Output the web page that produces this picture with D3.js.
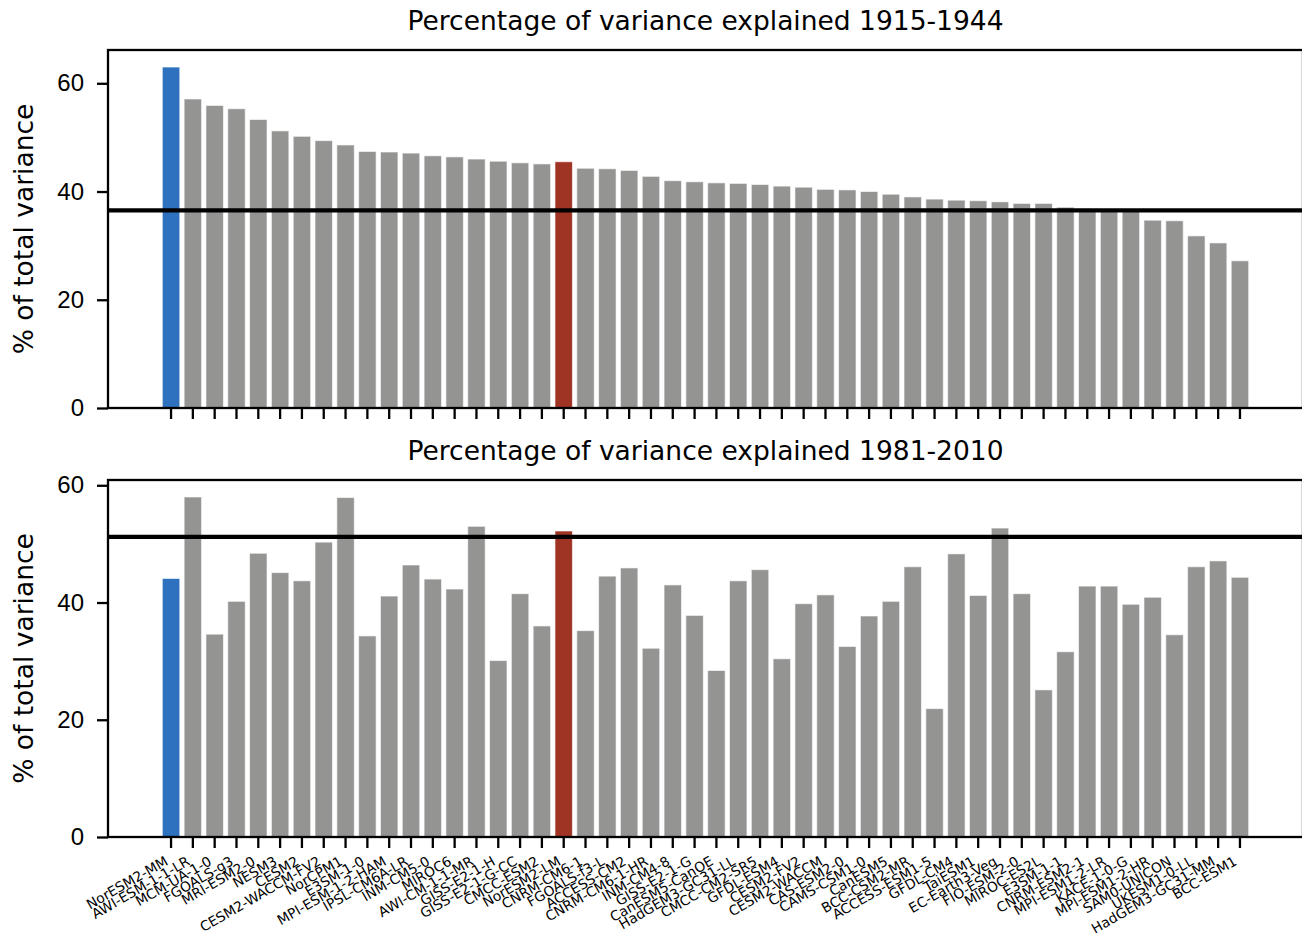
<!DOCTYPE html>
<html>
<head>
<meta charset="utf-8">
<script src="https://cdn.jsdelivr.net/npm/d3@7"></script>
<style>
  body { margin: 0; background: #ffffff; }
  svg { font-family: "DejaVu Sans", sans-serif; }
</style>
</head>
<body>
<svg id="chart" width="1302" height="940"></svg>
<script>
// model order is the same in both panels (sorted by the 1915-1944 value)
const models = [
  "NorESM2-MM", "AWI-ESM-1-1-LR", "MCM-UA-1-0", "FGOALS-g3", "MRI-ESM2-0",
  "NESM3", "CESM2", "CESM2-WACCM-FV2", "NorCPM1", "E3SM-1-0",
  "MPI-ESM-1-2-HAM", "IPSL-CM6A-LR", "INM-CM5-0", "MIROC6", "AWI-CM-1-1-MR",
  "GISS-E2-1-H", "GISS-E2-1-G-CC", "CMCC-ESM2", "NorESM2-LM", "CNRM-CM6-1",
  "FGOALS-f3-L", "ACCESS-CM2", "CNRM-CM6-1-HR", "INM-CM4-8", "GISS-E2-1-G",
  "CanESM5-CanOE", "HadGEM3-GC31-LL", "CMCC-CM2-SR5", "GFDL-ESM4", "CESM2-FV2",
  "CESM2-WACCM", "CAS-ESM2-0", "CAMS-CSM1-0", "CanESM5", "BCC-CSM2-MR",
  "ACCESS-ESM1-5", "GFDL-CM4", "TaiESM1", "EC-Earth3-Veg", "FIO-ESM-2-0",
  "MIROC-ES2L", "E3SM-1-1", "CNRM-ESM2-1", "MPI-ESM1-2-LR", "KACE-1-0-G",
  "MPI-ESM1-2-HR", "SAM0-UNICON", "UKESM1-0-LL", "HadGEM3-GC31-MM", "BCC-ESM1"
];

const variance1915 = [
  63.0, 57.1, 55.9, 55.3, 53.3, 51.2, 50.2, 49.4, 48.6, 47.4,
  47.3, 47.1, 46.6, 46.4, 46.0, 45.6, 45.3, 45.1, 45.5, 44.3,
  44.2, 43.9, 42.8, 42.0, 41.8, 41.6, 41.5, 41.3, 41.0, 40.8,
  40.4, 40.3, 40.0, 39.5, 39.0, 38.6, 38.4, 38.3, 38.1, 37.8,
  37.8, 37.1, 36.8, 36.6, 36.5, 34.7, 34.6, 31.8, 30.5, 27.2
];

const variance1981 = [
  44.1, 58.0, 34.6, 40.2, 48.4, 45.1, 43.7, 50.3, 57.9, 34.3,
  41.1, 46.4, 44.0, 42.3, 53.0, 30.1, 41.5, 36.0, 52.2, 35.2,
  44.5, 45.9, 32.2, 43.0, 37.8, 28.4, 43.7, 45.6, 30.4, 39.8,
  41.3, 32.5, 37.7, 40.2, 46.1, 21.9, 48.3, 41.2, 52.7, 41.5,
  25.1, 31.6, 42.8, 42.8, 39.7, 40.9, 34.5, 46.1, 47.1, 44.3
];

// reference (observed) level drawn as the black horizontal line
const refLines = [36.5, 51.2];
const titles = ["Percentage of variance explained 1915-1944", "Percentage of variance explained 1981-2010"];
const yTicks = [0, 20, 40, 60];

const highlight = { "NorESM2-MM": "#2e71be", "NorESM2-LM": "#a03424" };
const barGrey = "#949593";

const svg = d3.select("#chart");
const left = 108, right = 1303;

const x = d3.scaleBand()
    .domain(models)
    .range([left, right])
    .paddingInner(0.2)
    .paddingOuter(2.49);

const panels = [
  { values: variance1915, ref: refLines[0], title: titles[0], top: 50, bottom: 408, labels: false },
  { values: variance1981, ref: refLines[1], title: titles[1], top: 480, bottom: 837, labels: true }
];

panels.forEach((p) => {
    const y = d3.scaleLinear()
        .domain([0, d3.max(p.values) * 1.05])
        .range([p.bottom, p.top]);

    const g = svg.append("g");

    g.selectAll(".bar")
        .data(models)
        .join("rect")
        .attr("class", "bar")
        .attr("x", (d) => x(d))
        .attr("width", x.bandwidth())
        .attr("y", (d, i) => y(p.values[i]))
        .attr("height", (d, i) => y(0) - y(p.values[i]))
        .attr("fill", (d) => highlight[d] || barGrey)
        .attr("stroke", "#ffffff")
        .attr("stroke-opacity", 0.6)
        .attr("stroke-width", 1);

    g.append("line")
        .attr("x1", left).attr("x2", right)
        .attr("y1", y(p.ref)).attr("y2", y(p.ref))
        .attr("stroke", "#000").attr("stroke-width", 4.2);

    // frame
    g.append("rect")
        .attr("x", left).attr("y", p.top)
        .attr("width", right - left).attr("height", p.bottom - p.top)
        .attr("fill", "none").attr("stroke", "#000").attr("stroke-width", 2.3);

    const yAxis = g.append("g")
        .attr("transform", `translate(${left},0)`)
        .call(d3.axisLeft(y).tickValues(yTicks).tickSize(11).tickPadding(13).tickFormat(d3.format("d")));
    yAxis.select(".domain").remove();
    yAxis.selectAll(".tick line").attr("stroke", "#000").attr("stroke-width", 2.3);
    yAxis.selectAll(".tick text").attr("fill", "#000").style("font-size", "24px");

    const xAxis = g.append("g")
        .attr("transform", `translate(0,${p.bottom})`)
        .call(d3.axisBottom(x).tickSize(11).tickFormat(""));
    xAxis.select(".domain").remove();
    xAxis.selectAll(".tick line").attr("stroke", "#000").attr("stroke-width", 2.3);

    if (p.labels) {
        g.selectAll(".xlab")
            .data(models)
            .join("text")
            .attr("class", "xlab")
            .attr("transform", (d) => `translate(${x(d) + x.bandwidth() / 2 - 2},${p.bottom + 27}) rotate(-30)`)
            .attr("text-anchor", "end")
            .style("font-size", "13.8px")
            .attr("fill", "#000")
            .text((d) => d);
    }

    g.append("text")
        .attr("x", (left + right) / 2)
        .attr("y", p.top - 20)
        .attr("text-anchor", "middle")
        .style("font-size", "26.5px")
        .attr("fill", "#000")
        .text(p.title);

    g.append("text")
        .attr("transform", `translate(33,${(p.top + p.bottom) / 2}) rotate(-90)`)
        .attr("text-anchor", "middle")
        .style("font-size", "26.5px")
        .attr("fill", "#000")
        .text("% of total variance");
});
</script>
</body>
</html>
